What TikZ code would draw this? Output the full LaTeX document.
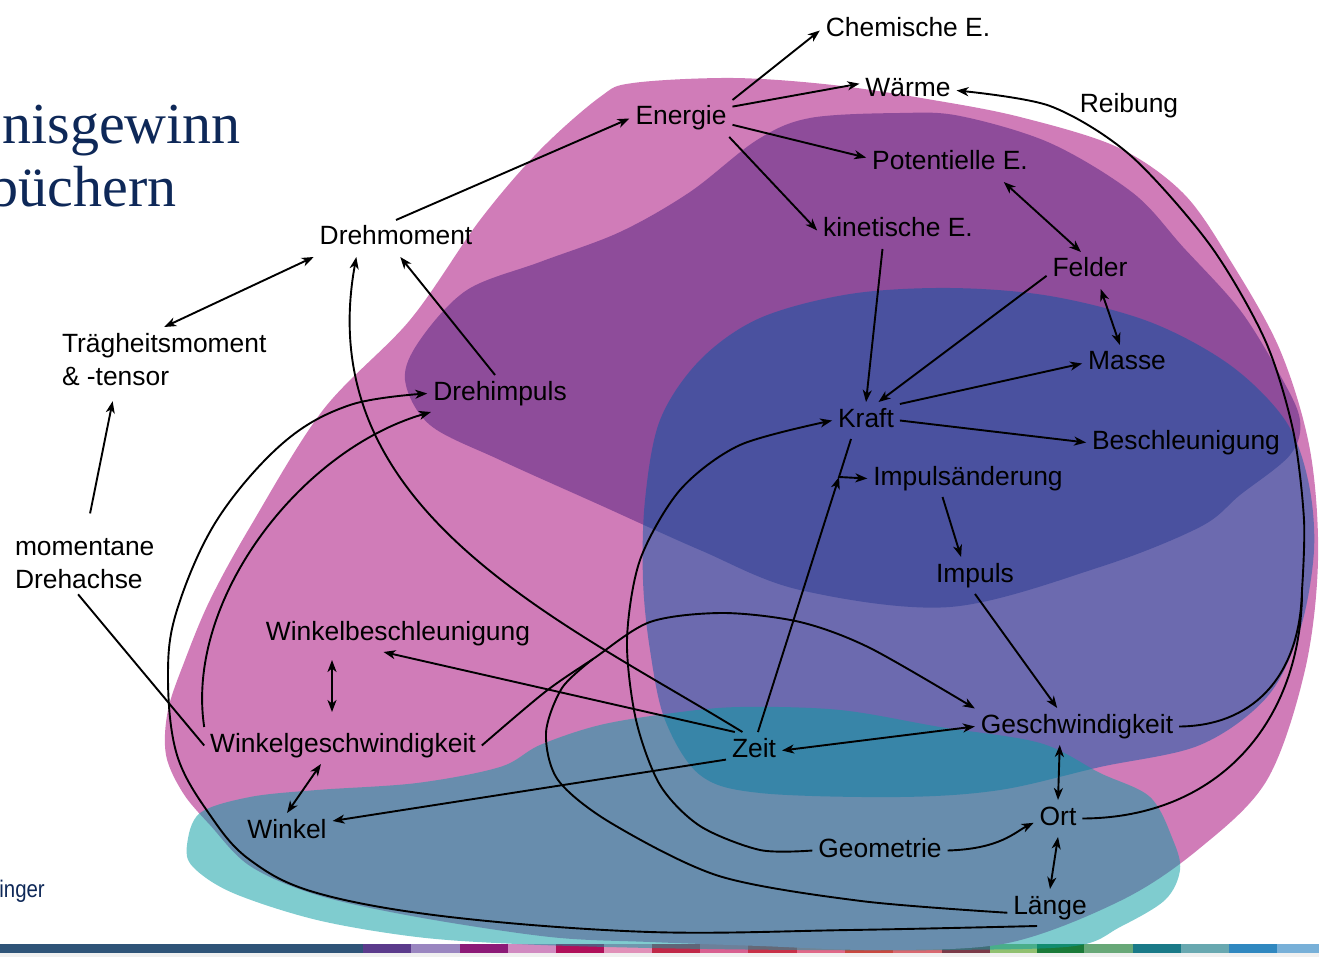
\documentclass[tikz,border=0pt]{standalone}
\usepackage{fontspec}
\usepackage{graphicx}
\setmainfont{Liberation Sans}
\newfontfamily\titlefont{Liberation Serif}
\usetikzlibrary{arrows.meta,calc}

\definecolor{pinkblob}{RGB}{208,124,184}
\definecolor{purpleblob}{RGB}{142,76,154}
\definecolor{blueblob}{RGB}{0,88,166}
\definecolor{tealblob}{RGB}{9,158,163}
\definecolor{navy}{RGB}{14,40,88}
\definecolor{footgray}{RGB}{240,240,240}

\begin{document}
\begin{tikzpicture}[x=1pt,y=-1pt,
  lbl/.style={font=\fontsize{26.4}{30}\selectfont, text height=19pt, text depth=6pt,
              inner sep=2pt, outer sep=4pt, anchor=base},
  mlbl/.style={font=\fontsize{26.4}{33}\selectfont, align=left,
               inner sep=2pt, outer sep=4pt, anchor=north west},
  conn/.style={line width=1.9pt, black},
  tip/.style={-{Stealth[length=12pt,width=9pt,inset=3.5pt]}},
  dtip/.style={{Stealth[length=12pt,width=9pt,inset=3.5pt]}-{Stealth[length=12pt,width=9pt,inset=3.5pt]}},
  title/.style={font=\titlefont\fontsize{58}{60}\selectfont, text=navy, inner sep=0pt, anchor=base east}]

\useasboundingbox (0,0) rectangle (1319,957);
\clip (0,0) rectangle (1319,957);

% footer colour strip
\foreach \xa/\xb/\c in {0/363/2F5478, 363/411/5B3B8C, 411/460/9A86C0, 460/508/8C1A77,
  508/556/D08AC0, 556/604/B0105A, 604/652/E090B8, 652/700/C02848, 700/748/D86090,
  748/797/C83048, 797/845/E06888, 845/893/C84840, 893/942/D86870, 942/990/7A3A48,
  990/1037/90C070, 1037/1084/1A7A38, 1084/1133/68A878, 1133/1181/1A7A88,
  1181/1229/68A8B0, 1229/1277/3088C0, 1277/1319/78B0D8}
  {\definecolor{stripcol}{HTML}{\c}\fill[stripcol] (\xa,944) rectangle (\xb,953);}

% overlapping areas
\fill[pinkblob] plot[smooth cycle, tension=0.55] coordinates {
  (600,97) (633,83) (733,78) (833,85) (933,100) (1020,117) (1117,147) (1183,193)
  (1230,260) (1280,350) (1310,450) (1318,560) (1305,670) (1267,780) (1200,848)
  (1122,900) (1008,943) (880,950) (760,946) (650,942) (550,937) (417,917) (317,895)
  (250,866) (210,825) (183,793) (166,755) (168,710) (185,660) (210,600) (250,527)
  (323,410) (410,320) (480,220) (540,150)};
\fill[purpleblob] plot[smooth cycle, tension=0.55] coordinates {
  (405,380) (420,340) (467,290) (540,262) (620,232) (690,192) (757,140) (810,118)
  (900,113) (960,116) (1050,143) (1133,193) (1183,247) (1240,310) (1280,375)
  (1300,420) (1290,455) (1240,495) (1200,527) (1100,567) (950,607) (800,590)
  (700,550) (600,505) (500,460) (430,425)};
\fill[blueblob, opacity=0.48] plot[smooth cycle, tension=0.55] coordinates {
  (645,500) (660,420) (700,360) (760,318) (850,294) (950,288) (1050,296) (1150,322)
  (1230,365) (1285,420) (1308,480) (1314,550) (1300,630) (1267,697) (1200,745)
  (1100,767) (1000,790) (900,797) (760,793) (700,775) (665,720) (650,650) (643,580)};
\fill[tealblob, opacity=0.52] plot[smooth cycle, tension=0.55] coordinates {
  (200,813) (250,797) (317,790) (417,783) (500,767) (540,745) (600,725) (673,713)
  (740,707) (840,710) (940,727) (1040,743) (1100,773) (1150,797) (1173,840)
  (1180,870) (1165,900) (1120,927) (1075,946) (950,950) (800,950) (650,948)
  (517,944) (417,937) (317,920) (233,893) (193,867) (187,845)};

\fill[footgray] (0,953) rectangle (1319,957);

% slide title remnants
\node[title] (t1) at (241,144) {nisgewinn};
\node[title] (t2) at (177,207) {büchern};
\node[font=\fontsize{24}{26}\selectfont, text=navy, inner sep=0pt, anchor=base east]
  (author) at (45,897) {\scalebox{0.85}[1]{inger}};

% concepts
\node[lbl] (chem)    at (908,37)   {Chemische E.};
\node[lbl] (waerme)  at (908,97)   {Wärme};
\node[lbl] (reib)    at (1129,113) {Reibung};
\node[lbl] (energie) at (681,125)  {Energie};
\node[lbl] (potE)    at (950,170)  {Potentielle E.};
\node[lbl] (drehm)   at (396,245)  {Drehmoment};
\node[lbl] (kinE)    at (898,237)  {kinetische E.};
\node[lbl] (felder)  at (1090,277) {Felder};
\node[mlbl] (traeg)  at (56,327)   {Trägheitsmoment\\\& -tensor};
\node[lbl] (masse)   at (1127,370) {Masse};
\node[lbl] (drehi)   at (500,400)  {Drehimpuls};
\node[lbl] (kraft)   at (866,427)  {Kraft};
\node[lbl] (beschl)  at (1186,449) {Beschleunigung};
\node[lbl] (impae)   at (968,485)  {Impulsänderung};
\node[mlbl] (momd)   at (9,532)    {momentane\\Drehachse};
\node[lbl] (impuls)  at (975,582)  {Impuls};
\node[lbl] (wbeschl) at (398,640)  {Winkelbeschleunigung};
\node[lbl] (geschw)  at (1077,733) {Geschwindigkeit};
\node[lbl] (wgeschw) at (343,752)  {Winkelgeschwindigkeit};
\node[lbl] (zeit)    at (754,757)  {Zeit};
\node[lbl] (ort)     at (1058,825) {Ort};
\node[lbl] (winkel)  at (287,838)  {Winkel};
\node[lbl] (geom)    at (880,857)  {Geometrie};
\node[lbl] (laenge)  at (1050,914) {Länge};

% junction points of merging connectors
\coordinate (kcorner) at (839,477);
\coordinate (vjoin) at (593,659);
\coordinate (rjoin) at (1302,590);

% energy branch
\draw[conn,tip] (energie.north east) -- (chem.west);
\draw[conn,tip] (energie.13) -- (waerme.172);
\draw[conn,tip] (energie.-7) -- (potE.176);
\draw[conn,tip] (energie.-21) -- (kinE.west);
\draw[conn,tip] (drehm.north) -- (energie.west);
\draw[conn,dtip] (potE.-19) -- (felder.116);
\draw[conn,dtip] (felder.-60) -- (masse.111);
\draw[conn,tip] (kinE.-130) -- (kraft.north);
\draw[conn,tip] (felder.187) -- (kraft.56);
\draw[conn,tip] (kraft.26) -- (masse.west);
\draw[conn,tip] (kraft.east) -- (beschl.west);

% rotation branch
\draw[conn,dtip] (traeg.north) -- (drehm.south west);
\draw[conn,tip,shorten <=19pt,shorten >=10pt] (momd.87) -- (traeg.213);
\draw[conn] (momd.258) -- (wgeschw.west);
\draw[conn,tip] (drehi.105) -- (drehm.-77);
\draw[conn,tip] (zeit.122) .. controls (560,620) and (310,510) .. (drehm.-155);
\draw[conn,tip] (wgeschw.north west) .. controls (185,600) and (300,450) .. (drehi.-165);
\draw[conn,tip] plot[smooth, tension=0.6] coordinates {(laenge.235) (850,930) (650,932)
  (450,917) (317,893) (250,860) (210,815) (177,755) (168,677) (177,610) (217,520)
  (283,443) (350,405) (drehi.west)};
\draw[conn,dtip] ($(wbeschl.south)+(-66,8)$) -- ($(wgeschw.north)+(-11,-15)$);
\draw[conn,dtip] (wgeschw.-140) -- (winkel.north);
\draw[conn,tip] (zeit.136) -- (wbeschl.-128);
\draw[conn,tip] (zeit.198) -- (winkel.13);

% velocity, time and place
\draw[conn,tip] plot[smooth] coordinates {(wgeschw.east) (545,692) (vjoin) (650,622)
  (723,613) (800,622) (870,648) (geschw.170)};
\draw[conn] plot[smooth] coordinates {(laenge.187) (861,901) (719,876) (611,823)
  (558,780) (546,733) (562,688) (vjoin)};
\draw[conn,dtip] (zeit.east) -- (geschw.west);
\draw[conn,tip] (zeit.78) -- (kcorner);
\draw[conn,tip] (kraft.-129) -- (kcorner) -- (impae.west);
\draw[conn,tip] plot[smooth] coordinates {(geom.west) (760,850) (700,826) (660,785)
  (636,720) (627,640) (640,560) (680,490) (740,445) (kraft.west)};
\draw[conn,tip] (impae.-144) -- (impuls.127);
\draw[conn,tip] (impuls.south) -- (geschw.137);
\draw[conn,dtip] (geschw.-133) -- (ort.north);
\draw[conn,dtip] (ort.south) -- (laenge.north);
\draw[conn,tip] (geom.east) .. controls (1000,849) and (1015,832) .. (ort.190);

% friction loop back to heat
\draw[conn] (geschw.east) .. controls (1250,726) and (1300,680) .. (rjoin);
\draw[conn] (ort.east) .. controls (1220,818) and (1302,720) .. (rjoin);
\draw[conn,tip] plot[smooth] coordinates {(rjoin) (1304,520) (1293,430) (1265,340)
  (1210,245) (1130,155) (1050,106) (waerme.east)};

\end{tikzpicture}
\end{document}
